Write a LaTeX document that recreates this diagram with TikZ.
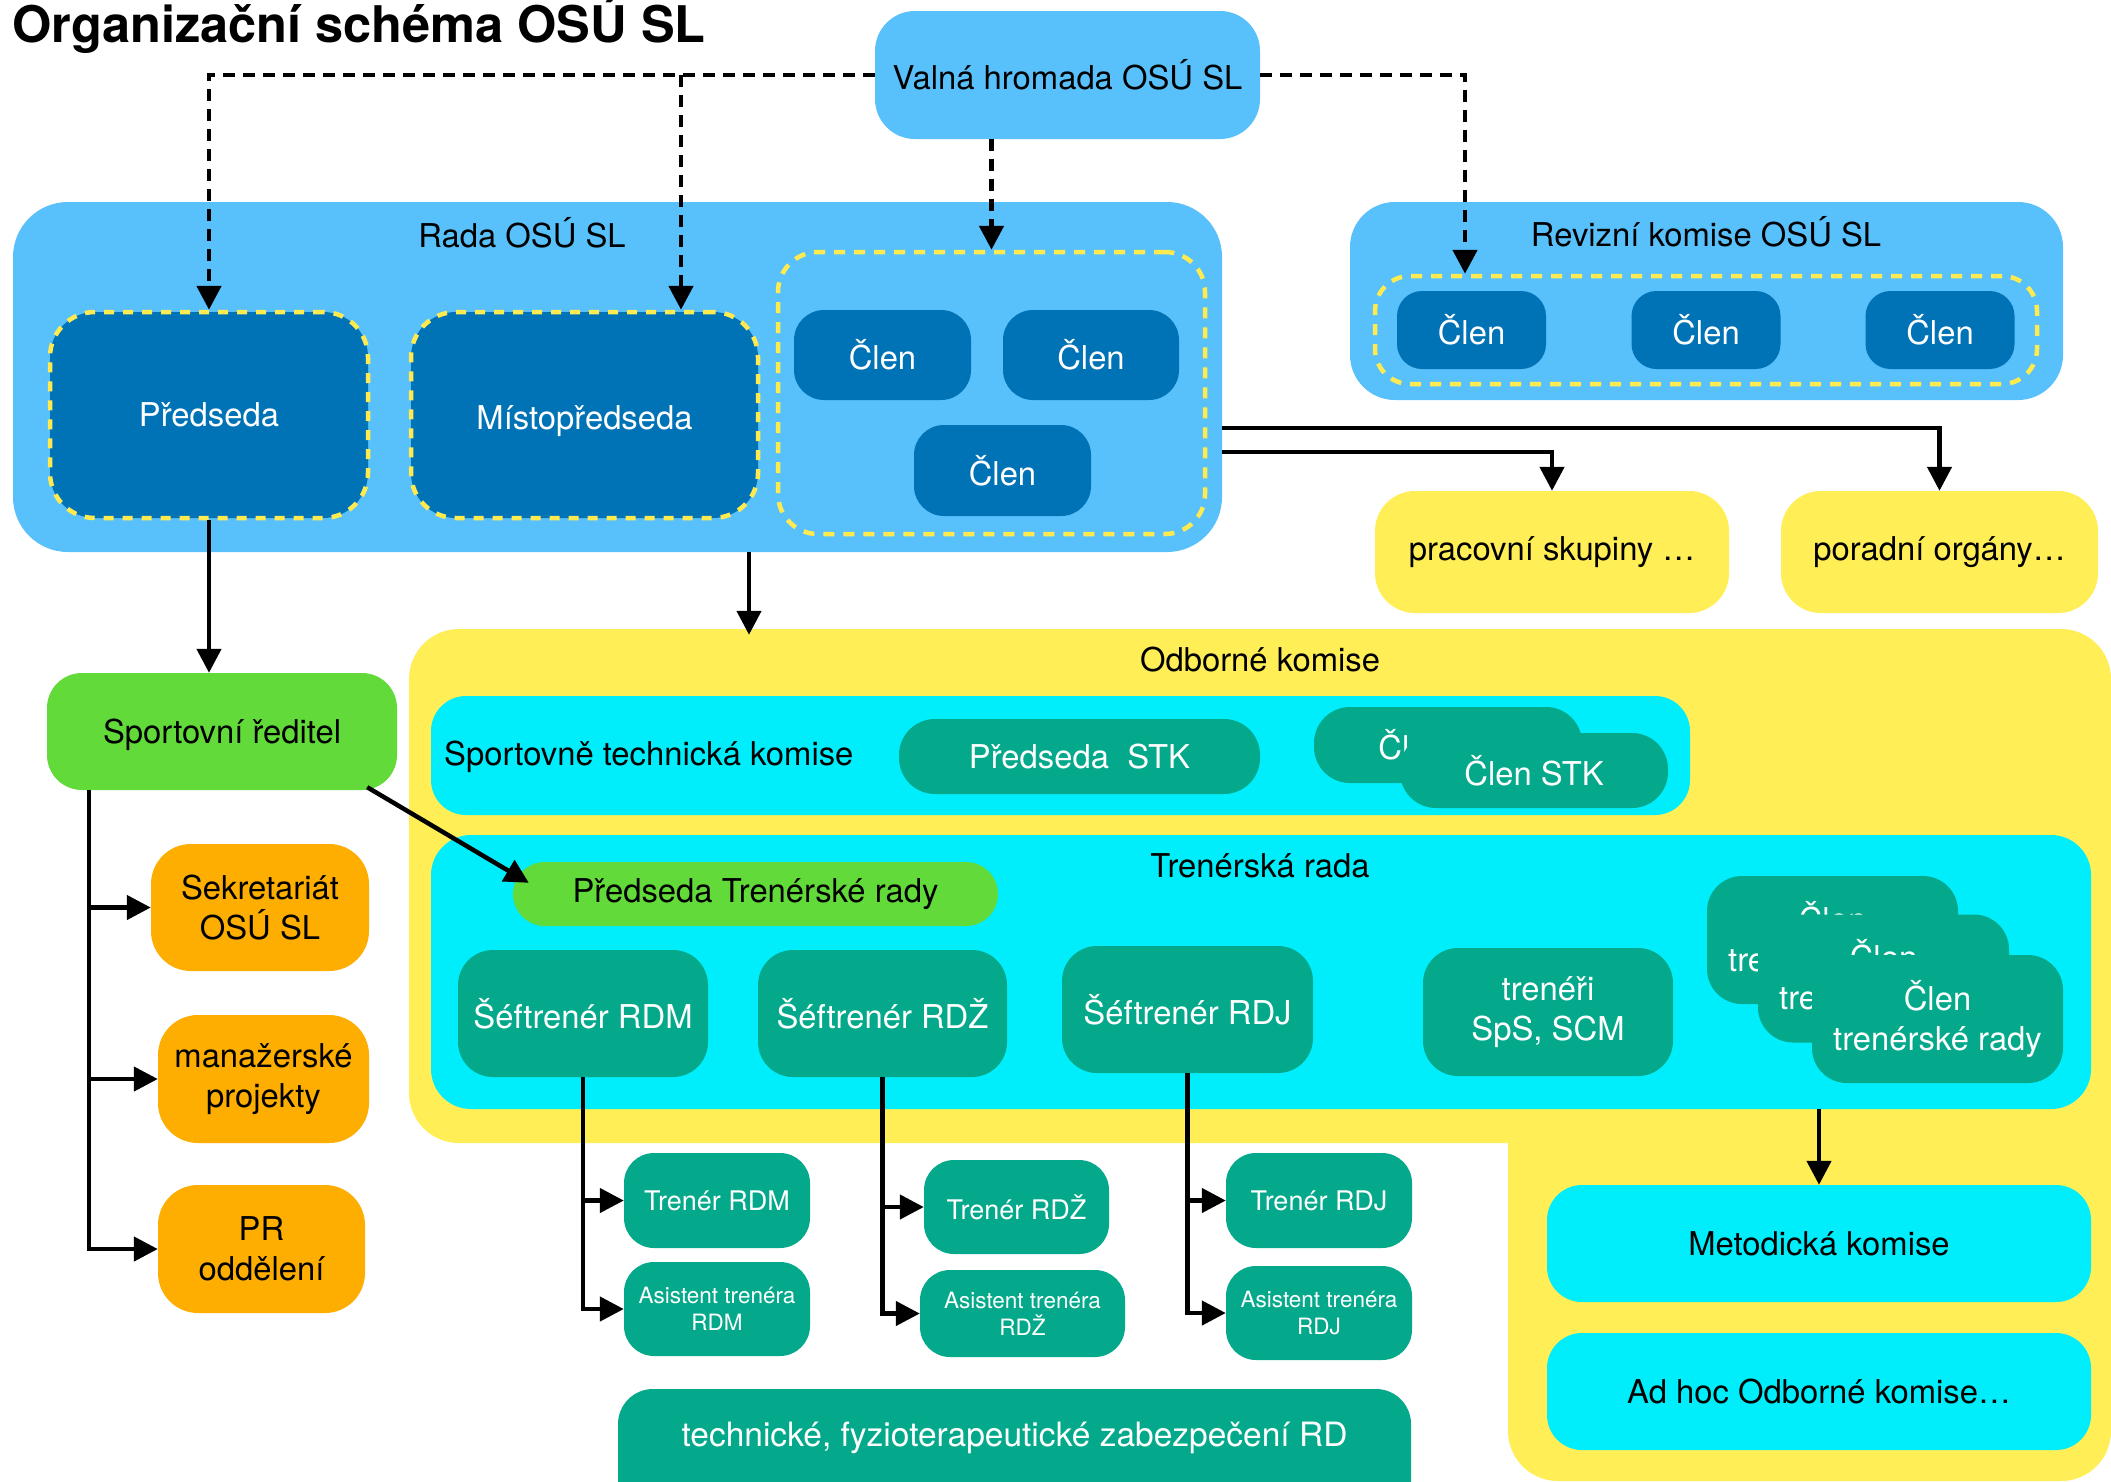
\documentclass[tikz,border=0pt]{standalone}
\usepackage{fontspec}
\setmainfont{TeX Gyre Heros}
\usetikzlibrary{arrows.meta,calc}
\definecolor{lblue}{HTML}{58C0FB}
\definecolor{dblue}{HTML}{0072B6}
\definecolor{ydash}{HTML}{FFEB50}
\definecolor{yfill}{HTML}{FFEE55}
\definecolor{cyanc}{HTML}{00EEFB}
\definecolor{tealc}{HTML}{03A98A}
\definecolor{greenc}{HTML}{62DA3A}
\definecolor{orangec}{HTML}{FDAE00}
\begin{document}
\begin{tikzpicture}[x=1pt,y=-1pt,
  box/.style={draw=none, inner sep=0pt, align=center, font=\fontsize{32.8}{40}\selectfont, rounded corners=#1},
  box/.default=35pt,
  lbl/.style={inner sep=0pt, align=center, font=\fontsize{32.8}{40}\selectfont},
  dbox/.style={box=30pt, fill=dblue, text=white},
  tbox/.style={box=35pt, fill=tealc, text=white},
  ybdr/.style={draw=ydash, line width=4.5pt},
  conn/.style={line width=4.8pt, dash pattern=on 12pt off 8pt, -{Triangle[length=24pt,width=24pt]}},
  arr/.style={line width=4.5pt, -{Triangle[length=24pt,width=24pt]}},
  plain/.style={line width=4.5pt}
]
\clip (0,0) rectangle (2111,1481);
\fill[white] (0,0) rectangle (2111,1481);

% title
\node[anchor=base west, inner sep=0pt, font=\bfseries\fontsize{50.5}{56}\selectfont] (title) at (12,42) {Organizační schéma OSÚ SL};

% Valna hromada
\node[box=40pt, fill=lblue, minimum width=385pt, minimum height=128pt] (valna) at (1067.5,75) {Valná hromada OSÚ SL};

% Rada
\node[box=55pt, fill=lblue, minimum width=1209pt, minimum height=350pt] (rada) at (617.5,377) {};
\node[lbl] (radat) at (522,233) {Rada OSÚ SL};
\node[box=45pt, fill=dblue, text=white, ybdr, dash pattern=on 10pt off 9pt, minimum width=318pt, minimum height=206pt] (predseda) at (209,415) {Předseda};
\node[box=45pt, fill=dblue, text=white, ybdr, dash pattern=on 10pt off 9pt, minimum width=347pt, minimum height=206pt] (misto) at (584.5,415) {\raisebox{-6pt}[\height][\depth]{Místopředseda}};
\node[box=40pt, ybdr, dash pattern=on 11pt off 9pt, minimum width=427pt, minimum height=282pt] (clenbox) at (991.5,393) {};
\node[dbox, minimum width=177pt, minimum height=90pt] (clen1) at (882.5,355) {Člen};
\node[dbox, minimum width=176pt, minimum height=90pt] (clen2) at (1091,355) {Člen};
\node[dbox, minimum width=177pt, minimum height=91pt] (clen3) at (1002.5,470.5) {Člen};

% Revizni komise
\node[box=45pt, fill=lblue, minimum width=713pt, minimum height=198pt] (revizni) at (1706.5,301) {};
\node[lbl] (revt) at (1706,232) {Revizní komise OSÚ SL};
\node[box=35pt, ybdr, dash pattern=on 11pt off 9pt, minimum width=662pt, minimum height=108pt] (revbox) at (1706,330) {};
\node[dbox, rounded corners=25pt, minimum width=149pt, minimum height=78pt] (rc1) at (1471.5,330) {Člen};
\node[dbox, rounded corners=25pt, minimum width=149pt, minimum height=78pt] (rc2) at (1706,330) {Člen};
\node[dbox, rounded corners=25pt, minimum width=149pt, minimum height=78pt] (rc3) at (1940,330) {Člen};

% pracovni / poradni
\node[box=40pt, fill=yfill, minimum width=354pt, minimum height=122pt] (pracovni) at (1552,552) {pracovní skupiny …};
\node[box=40pt, fill=yfill, minimum width=317pt, minimum height=122pt] (poradni) at (1939.5,552) {poradní orgány…};

% Sportovni reditel and left column
\node[box=35pt, fill=greenc, minimum width=350pt, minimum height=117pt] (sport) at (222,731.5) {\raisebox{-3pt}[\height][\depth]{Sportovní ředitel}};
\node[box=40pt, fill=orangec, minimum width=218pt, minimum height=127pt] (sekr) at (260,907.5) {Sekretariát\\OSÚ SL};
\node[box=40pt, fill=orangec, minimum width=211pt, minimum height=128pt] (manaz) at (263.5,1079) {manažerské\\projekty};
\node[box=40pt, fill=orangec, minimum width=207pt, minimum height=128pt] (pr) at (261.5,1249) {PR\\oddělení};

% Odborne komise (L shape)
\node[box=50pt, fill=yfill, minimum width=1702pt, minimum height=514pt] (odb) at (1260,886) {};
\node[box=50pt, fill=yfill, minimum width=603pt, minimum height=781pt] (odb2) at (1809.5,1090.5) {};
\node[lbl] (odbt) at (1260,660) {Odborné komise};

% STK
\node[box=35pt, fill=cyanc, minimum width=1259pt, minimum height=119pt] (stk) at (1060.5,755.5) {};
\node[lbl, anchor=west] (stkt) at (444,757) {Sportovně technická komise};
\node[tbox, rounded corners=36pt, minimum width=361pt, minimum height=75pt] (pstk) at (1079.5,756.5) {Předseda\ \ STK};
\node[tbox, rounded corners=36pt, minimum width=268pt, minimum height=76pt] (cstkb) at (1448,745) {Člen STK};
\node[tbox, rounded corners=36pt, minimum width=268pt, minimum height=75pt] (cstkf) at (1534,770.5) {Člen STK};

% Trenerska rada
\node[box=40pt, fill=cyanc, minimum width=1660pt, minimum height=274pt] (trener) at (1261,972) {};
\node[lbl] (trenert) at (1260,866) {Trenérská rada};
\node[box=32pt, fill=greenc, minimum width=485pt, minimum height=64pt] (ptr) at (755.5,894) {Předseda Trenérské rady};
\node[tbox, minimum width=250pt, minimum height=127pt] (sRDM) at (583,1013.5) {Šéftrenér RDM};
\node[tbox, minimum width=249pt, minimum height=127pt] (sRDZ) at (882.5,1013.5) {Šéftrenér RDŽ};
\node[tbox, minimum width=251pt, minimum height=127pt] (sRDJ) at (1187.5,1009.5) {Šéftrenér RDJ};
\node[tbox, minimum width=250pt, minimum height=128pt] (sps) at (1548,1012) {trenéři\\SpS, SCM};
\node[tbox, minimum width=251pt, minimum height=128pt] (ctr1) at (1832.5,940) {Člen\\trenérské rady};
\node[tbox, minimum width=251pt, minimum height=128pt] (ctr2) at (1883.5,978.5) {Člen\\trenérské rady};
\node[tbox, minimum width=251pt, minimum height=128pt] (ctr3) at (1937.5,1019) {Člen\\trenérské rady};

% Metodicka / ad hoc
\node[box=35pt, fill=cyanc, minimum width=544pt, minimum height=117pt] (metod) at (1819,1243.5) {Metodická komise};
\node[box=35pt, fill=cyanc, minimum width=544pt, minimum height=117pt] (adhoc) at (1819,1391.5) {Ad hoc Odborné komise…};

% Trener / asistent boxes
\tikzset{trb/.style={tbox, rounded corners=30pt, font=\fontsize{27}{32}\selectfont},
         asb/.style={tbox, rounded corners=30pt, font=\fontsize{22.5}{27}\selectfont}}
\node[trb, minimum width=186pt, minimum height=95pt] (trRDM) at (717,1200.5) {Trenér RDM};
\node[asb, minimum width=186pt, minimum height=94pt] (asRDM) at (717,1309) {Asistent trenéra\\RDM};
\node[trb, minimum width=185pt, minimum height=94pt] (trRDZ) at (1016.5,1207) {Trenér RDŽ};
\node[asb, minimum width=205pt, minimum height=87pt] (asRDZ) at (1022.5,1313.5) {Asistent trenéra\\RDŽ};
\node[trb, minimum width=186pt, minimum height=95pt] (trRDJ) at (1319,1200.5) {Trenér RDJ};
\node[asb, minimum width=186pt, minimum height=94pt] (asRDJ) at (1319,1313) {Asistent trenéra\\RDJ};
\node[tbox, minimum width=793pt, minimum height=160pt] (tech) at (1014.5,1469) {};
\node[lbl, text=white, font=\fontsize{33.5}{40}\selectfont] (techt) at (1014.5,1438) {technické, fyzioterapeutické zabezpečení RD};

% dotted connectors from Valna hromada
\coordinate (mb) at (681,75);
\coordinate (rb) at (1465,75);
\draw[conn] (valna.west) -- (predseda.north |- valna.west) -- (predseda.north);
\draw[conn] (mb) -- (mb |- misto.north);
\draw[conn] (valna.east) -- (rb) -- (rb |- revbox.north);
\draw[conn] (clenbox.north |- valna.south) -- (clenbox.north);

% solid connectors
\path (rada.east) ++(0,51) coordinate (r1);
\path (rada.east) ++(0,75) coordinate (r2);
\path (rada.south) ++(131.5,0) coordinate (r3);
\draw[arr] (r1) -| (poradni.north);
\draw[arr] (r2) -| (pracovni.north);
\draw[arr] (r3) -- ($(r3 |- odb.north)+(0,6)$);
\draw[arr] (predseda.south) -- (predseda.south |- sport.north);

\path (sport.south west) ++(42,0) coordinate (s1);
\draw[arr] (s1) |- (sekr.west);
\draw[arr] (s1) |- (manaz.west);
\draw[arr] (s1) |- (pr.west);
\draw[arr] ($(sport.south east)+(-30,-3)$) -- ($(ptr.north west)+(16,21)$);

\draw[arr] (sRDM.south) |- (trRDM.west);
\draw[arr] (sRDM.south) |- (asRDM.west);
\draw[arr] (sRDZ.south) |- (trRDZ.west);
\draw[arr] (sRDZ.south) |- (asRDZ.west);
\draw[arr] (sRDJ.south) |- (trRDJ.west);
\draw[arr] (sRDJ.south) |- (asRDJ.west);
\draw[arr] (metod.north |- trener.south) -- (metod.north);
\end{tikzpicture}
\end{document}
